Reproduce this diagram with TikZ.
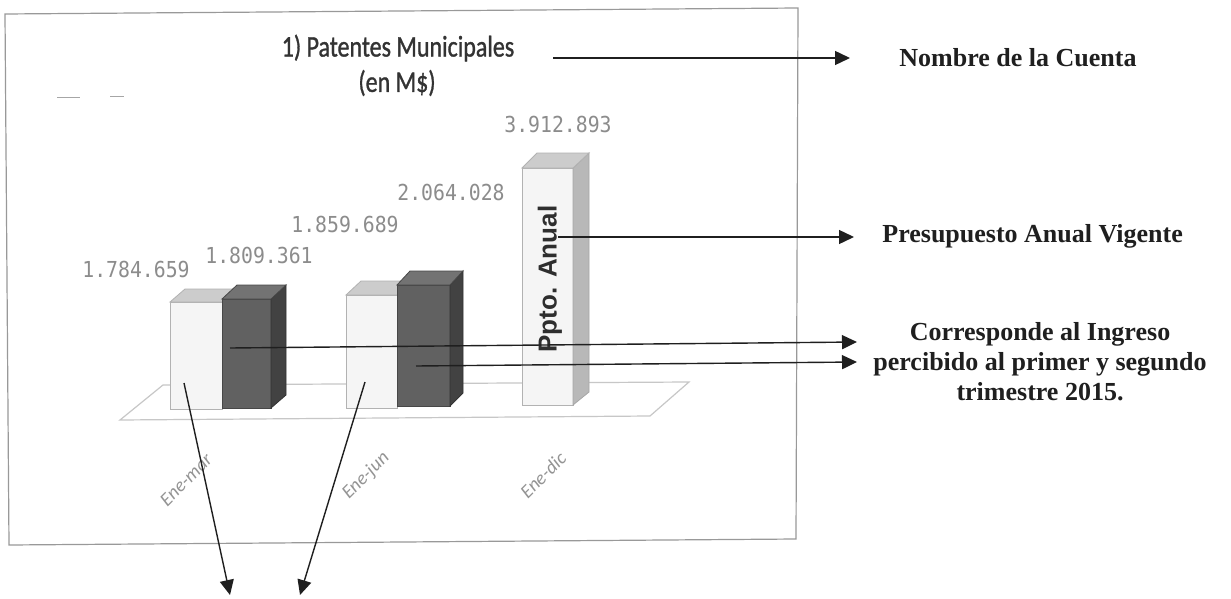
\documentclass[tikz,border=0pt]{standalone}
\usepackage{fontspec}
\setmainfont{Liberation Serif}
\newfontfamily\titlefnt[FakeStretch=0.8, FakeBold=1]{Carlito}
\newfontfamily\catfnt{Carlito}
\newfontfamily\monofnt[FakeStretch=0.9]{DejaVu Sans Mono}
\newfontfamily\arialfnt{Liberation Sans}
\usetikzlibrary{arrows.meta}
\begin{document}
\begin{tikzpicture}[x=0.5pt,y=-0.5pt,
  conn/.style={draw=black!88, line width=0.7pt, -{Triangle[length=7.5pt,width=7pt]}},
  val/.style={font=\monofnt\fontsize{11}{13}\selectfont, text=black!45, inner sep=0pt},
  cat/.style={font=\catfnt\itshape\fontsize{9.5}{10}\selectfont, text=black!42, rotate=45, inner sep=0pt},
  ttl/.style={font=\titlefnt\fontsize{15}{17}\selectfont, text=black!80, inner sep=0pt},
  note/.style={font=\bfseries\fontsize{13}{15}\selectfont, text=black!88, align=center, inner sep=0pt},
  ppto/.style={font=\arialfnt\bfseries\fontsize{13}{15}\selectfont, text=black!82, rotate=90, inner sep=0pt},
  chartframe/.style={draw=black!40, line width=0.6pt},
  floorline/.style={draw=black!22, line width=0.6pt},
  wfront/.style={fill=black!4, draw=black!30, line width=0.4pt},
  wtop/.style={fill=black!20, draw=black!30, line width=0.4pt},
  wside/.style={fill=black!28, draw=black!35, line width=0.4pt},
  dfront/.style={fill=black!62, draw=black!72, line width=0.4pt},
  dside/.style={fill=black!74, draw=black!80, line width=0.4pt},
  dtop/.style={fill=black!55, draw=black!72, line width=0.4pt},
  legendtick/.style={draw=black!35, line width=0.4pt}
]
\useasboundingbox (0,0) rectangle (1231,599);
\fill[white] (0,0) rectangle (1231,599);

% chart frame
\draw[chartframe] (5,14) -- (798,8) -- (796,539) -- (9,545) -- cycle;

% faint legend remnants
\draw[legendtick] (57,97) -- (80,97);
\draw[legendtick] (110,96) -- (124,96);

% title
\node[ttl] (t1) at (398,48) {1) Patentes Municipales};
\node[ttl] (t2) at (397,83) {(en M\$)};

% floor
\draw[floorline] (120,420) -- (163,385) -- (689,382) -- (650,416) -- cycle;

% bar 1 (white)
\draw[wfront] (170,302) rectangle (222,409);
\draw[wtop] (170,302) -- (185,289) -- (237,289) -- (222,302) -- cycle;
% bar 1 (dark)
\draw[dfront] (222,299) rectangle (271,408);
\draw[dside] (271,299) -- (286,285) -- (286,395) -- (271,408) -- cycle;
\draw[dtop] (222,299) -- (237,285) -- (286,285) -- (271,299) -- cycle;

% bar 2 (white)
\draw[wfront] (346,295) rectangle (397,408);
\draw[wtop] (346,295) -- (361,281) -- (412,281) -- (397,295) -- cycle;
% bar 2 (dark)
\draw[dfront] (397,285) rectangle (450,406);
\draw[dside] (450,285) -- (463,271) -- (463,393) -- (450,406) -- cycle;
\draw[dtop] (397,285) -- (410,271) -- (463,271) -- (450,285) -- cycle;

% bar 3 (annual budget)
\draw[wfront] (522,168) rectangle (573,405);
\draw[wside] (573,168) -- (589,153) -- (589,392) -- (573,405) -- cycle;
\draw[wtop] (522,168) -- (537,153) -- (589,153) -- (573,168) -- cycle;
\node[ppto] (pp) at (550,279) {Ppto. Anual};

% value labels
\node[val] (v1) at (136,269) {1.784.659};
\node[val] (v2) at (259,255) {1.809.361};
\node[val] (v3) at (345,224) {1.859.689};
\node[val] (v4) at (451,192) {2.064.028};
\node[val] (v5) at (558,124) {3.912.893};

% category labels
\node[cat] (c1) at (186,480) {Ene-mar};
\node[cat] (c2) at (366,476) {Ene-jun};
\node[cat] (c3) at (543,475) {Ene-dic};

% right-hand notes
\node[note, anchor=west] (nomb) at (899,58) {Nombre de la Cuenta};
\node[note, anchor=west] (pres) at (882,236) {Presupuesto Anual Vigente};
\node[note] (corr) at (1040,362) {Corresponde al Ingreso\\percibido al primer y segundo\\trimestre 2015.};

% connector end points
\coordinate (a1s) at (553,58);
\coordinate (a1e) at (850,58);
\coordinate (a2s) at (558,237);
\coordinate (a2e) at (854,237);
\coordinate (a3s) at (230,348);
\coordinate (a3e) at (857,342);
\coordinate (a4s) at (416,366);
\coordinate (a4e) at (857,362);
\coordinate (d1s) at (184,383);
\coordinate (d1e) at (230,595);
\coordinate (d2s) at (365,382);
\coordinate (d2e) at (300,595);

\draw[conn] (a1s) -- (a1e);
\draw[conn] (a2s) -- (a2e);
\draw[conn] (a3s) -- (a3e);
\draw[conn] (a4s) -- (a4e);
\draw[conn] (d1s) -- (d1e);
\draw[conn] (d2s) -- (d2e);
\end{tikzpicture}
\end{document}
